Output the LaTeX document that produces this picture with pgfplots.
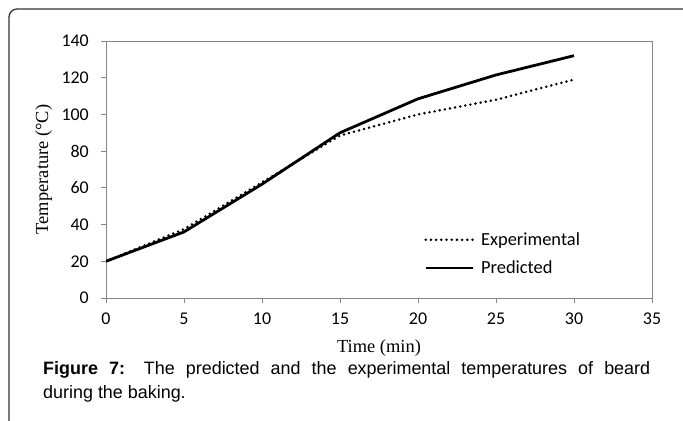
\documentclass[border=0pt]{standalone}
\usepackage{fontspec}
\setmainfont{Liberation Sans}
\newfontfamily\carlito{Carlito}
\newfontfamily\timesf{Liberation Serif}
\usepackage{pgfplots}
\pgfplotsset{compat=1.18}
\definecolor{axgray}{RGB}{134,134,134}
\begin{document}
\begin{tikzpicture}
\useasboundingbox (0,0) rectangle (683bp,421bp);
\draw[line width=1.3bp, color=black!80, rounded corners=8bp] (9bp,-5bp) -- (9bp,412bp) -- (700bp,412bp);
\begin{axis}[
  at={(106bp,123bp)}, anchor=south west,
  scale only axis, width=546bp, height=257bp,
  xmin=0, xmax=35, ymin=0, ymax=140,
  xtick={0,5,...,35}, ytick={0,20,...,140},
  tick pos=left, tick align=outside, major tick length=5bp,
  tick style={axgray, line width=0.8bp},
  axis line style={axgray, line width=0.8bp},
  /pgf/number format/assume math mode=true,
  tick label style={font=\carlito\fontsize{18}{21}\selectfont, inner sep=0pt},
  yticklabel style={anchor=east, xshift=-12bp},
  xticklabel style={anchor=north, yshift=-10bp},
  xlabel={\timesf Time (min)},
  ylabel={\timesf Temperature (°C)},
  label style={font=\timesf\fontsize{18.5}{22}\selectfont},
  xlabel style={at={(axis description cs:0.5,0)}, anchor=base, yshift=-54bp},
  ylabel style={at={(axis description cs:-0.1062,0.5)}, anchor=base, rotate=0},
  legend style={at={(axis cs:20.2,24)}, anchor=west, draw=none, fill=none,
    font=\carlito\fontsize{18.5}{21}\selectfont, nodes={inner sep=0pt}, row sep=14bp, column sep=7bp},
  legend cell align=left,
  legend image code/.code={\draw[#1] (0bp,0bp) -- (47bp,0bp);},
]
\addplot[black, line width=2.8bp, dash pattern=on 0bp off 5.2bp, line cap=round] coordinates {
(0,20) (5,37.5) (10,63) (15,88.5) (20,100) (25,108) (30,119)};
\addlegendentry{Experimental}
\addplot[black, line width=2.8bp, line join=round] coordinates {
(0,20) (5,36) (10,62) (15,90) (20,108.5) (25,121.5) (30,132)};
\addlegendentry{Predicted}
\end{axis}
\node[anchor=base west, inner sep=0pt, font=\fontsize{18}{22}\selectfont] at (43bp,46bp)
  {\makebox[607bp][s]{{\bfseries Figure 7:} The predicted and the experimental temperatures of beard}};
\node[anchor=base west, inner sep=0pt, font=\fontsize{18}{22}\selectfont] at (43bp,23bp)
  {during the baking.};
\end{tikzpicture}
\end{document}
